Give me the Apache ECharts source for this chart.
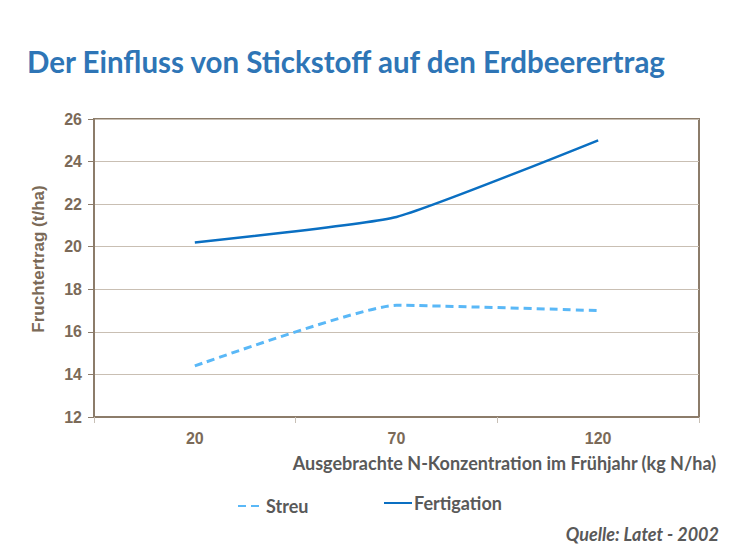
<!DOCTYPE html>
<html>
<head>
<meta charset="utf-8">
<script src="https://cdn.jsdelivr.net/npm/echarts@6/dist/echarts.min.js"></script>
<style>
  html, body { margin: 0; padding: 0; background: #fff; }
  #chart { width: 730px; height: 547px; }
</style>
</head>
<body>
<div id="chart"></div>
<script>
// N-Konzentration (kg N/ha)
const categories = ['20', '70', '120'];
// Fruchtertrag (t/ha)
const streu = [14.4, 17.25, 17.0];
const fertigation = [20.2, 21.4, 25.0];

const brown = '#7b6a58';
const frame = '#8c7c6a';
const grey = '#595959';

const chart = echarts.init(document.getElementById('chart'), null, { renderer: 'svg' });

const legendText = {
    fontFamily: 'Lato',
    fontSize: 18,
    fontWeight: 'bold',
    color: grey,
    padding: [0, 0, 0, -3]
};

const option = {
    animation: false,
    title: [
        {
            text: 'Der Einfluss von Stickstoff auf den Erdbeerertrag',
            left: 22,
            top: 41,
            textStyle: {
                fontFamily: 'Lato',
                fontSize: 29.5,
                fontWeight: 'bold',
                color: '#2e75b6'
            }
        },
        {
            text: 'Quelle: Latet - 2002',
            right: 6,
            top: 520,
            textStyle: {
                fontFamily: 'Lato',
                fontSize: 18,
                fontWeight: 'bold',
                fontStyle: 'italic',
                color: grey
            }
        }
    ],
    legend: [
        {
            left: 232,
            top: 492,
            itemWidth: 26,
            itemHeight: 10,
            data: ['Streu'],
            itemStyle: { opacity: 0 },
            textStyle: legendText
        },
        {
            left: 378,
            top: 489,
            itemWidth: 28,
            itemHeight: 10,
            data: ['Fertigation'],
            itemStyle: { opacity: 0 },
            textStyle: legendText
        }
    ],
    grid: {
        left: 94,
        right: 31,
        top: 119,
        bottom: 130,
        show: true,
        borderColor: frame,
        borderWidth: 2
    },
    xAxis: {
        type: 'category',
        data: categories,
        boundaryGap: true,
        axisLine: { lineStyle: { color: frame, width: 2 } },
        axisTick: { show: true, length: 6, lineStyle: { color: '#c8c0b6' } },
        axisLabel: {
            margin: 13,
            fontFamily: 'Liberation Sans',
            fontSize: 16,
            fontWeight: 'bold',
            color: brown
        },
        name: 'Ausgebrachte N-Konzentration im Frühjahr (kg N/ha)',
        nameLocation: 'middle',
        nameGap: 37,
        nameTextStyle: {
            fontFamily: 'Lato',
            fontSize: 18,
            fontWeight: 'bold',
            color: grey,
            padding: [0, 0, 0, 216]
        }
    },
    yAxis: {
        type: 'value',
        min: 12,
        max: 26,
        interval: 2,
        axisLine: { show: true, lineStyle: { color: frame, width: 2 } },
        axisTick: { show: true, length: 6, lineStyle: { color: frame } },
        splitLine: { lineStyle: { color: '#c9bfb3', width: 1 } },
        axisLabel: {
            margin: 12,
            fontFamily: 'Liberation Sans',
            fontSize: 16,
            fontWeight: 'bold',
            color: brown
        },
        name: 'Fruchtertrag (t/ha)',
        nameLocation: 'middle',
        nameGap: 47,
        nameTextStyle: {
            fontFamily: 'Liberation Sans',
            fontSize: 17,
            fontWeight: 'bold',
            color: brown,
            padding: [0, 0, 0, 18]
        }
    },
    series: [
        {
            name: 'Streu',
            type: 'line',
            data: streu,
            symbol: 'none',
            smooth: 0.15,
            lineStyle: { color: '#5ab8f7', width: 3, type: [8, 5] },
            itemStyle: { color: '#5ab8f7' }
        },
        {
            name: 'Fertigation',
            type: 'line',
            data: fertigation,
            symbol: 'none',
            smooth: 0.15,
            lineStyle: { color: '#0a6fc2', width: 2.5 },
            itemStyle: { color: '#0a6fc2' }
        }
    ]
};

chart.setOption(option);
</script>
</body>
</html>
